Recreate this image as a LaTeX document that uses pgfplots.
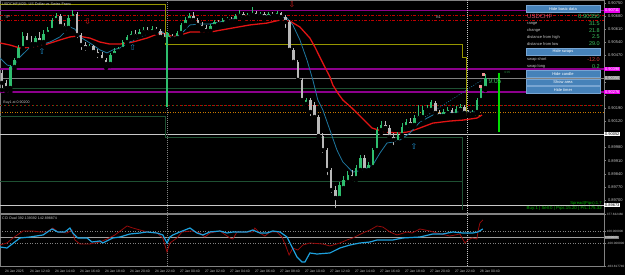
\documentclass[border=0pt]{standalone}
\usepackage{fontspec}
\setmainfont{Liberation Sans}
\newfontfamily\dejavu{DejaVu Sans}
\usepackage{pgfplots}
\usepackage{pgfplotstable}
\pgfplotsset{compat=1.18}
\definecolor{upc}{RGB}{46,190,110}
\definecolor{dnc}{RGB}{185,185,185}
\definecolor{maR}{RGB}{225,20,20}
\definecolor{maB}{RGB}{30,120,160}
\definecolor{mag}{RGB}{140,0,140}
\definecolor{magL}{RGB}{235,0,235}
\definecolor{lvred}{RGB}{190,0,0}
\definecolor{olv}{RGB}{150,150,0}
\definecolor{dgreen}{RGB}{30,80,50}
\definecolor{lgray}{RGB}{200,200,200}
\definecolor{mgray}{RGB}{130,130,130}
\definecolor{btn}{RGB}{70,130,185}
\definecolor{btnb}{RGB}{120,165,210}
\definecolor{txtg}{RGB}{60,195,95}
\definecolor{cciB}{RGB}{30,160,220}
\definecolor{cciR}{RGB}{150,10,10}
\definecolor{orng}{RGB}{200,120,0}
\definecolor{arrB}{RGB}{30,140,200}
\definecolor{arrR}{RGB}{210,30,30}
\definecolor{brgreen}{RGB}{0,220,0}
\newcommand{\fs}[1]{\fontsize{#1}{#1}\selectfont}

\pgfplotstableread{
x o h l c
2 0.90297 0.90420 0.90276 0.90409
3 0.90409 0.90457 0.90398 0.90446
4 0.90446 0.90526 0.90436 0.90510
5 0.90510 0.90595 0.90500 0.90574
8 0.90531 0.90574 0.90521 0.90563
10 0.90542 0.90606 0.90531 0.90585
11 0.90585 0.90622 0.90574 0.90606
12 0.90606 0.90670 0.90595 0.90659
13 0.90659 0.90697 0.90638 0.90681
16 0.90617 0.90686 0.90606 0.90670
17 0.90670 0.90713 0.90659 0.90691
21 0.90510 0.90531 0.90489 0.90521
26 0.90425 0.90484 0.90414 0.90473
27 0.90473 0.90510 0.90462 0.90494
28 0.90494 0.90515 0.90484 0.90505
29 0.90505 0.90553 0.90494 0.90542
30 0.90542 0.90579 0.90531 0.90569
31 0.90569 0.90601 0.90558 0.90585
33 0.90574 0.90611 0.90569 0.90595
34 0.90595 0.90622 0.90585 0.90606
36 0.90595 0.90627 0.90590 0.90611
40 0.90558 0.90590 0.90547 0.90574
42 0.90563 0.90601 0.90558 0.90590
43 0.90590 0.90643 0.90579 0.90633
44 0.90633 0.90675 0.90622 0.90659
45 0.90659 0.90697 0.90649 0.90681
50 0.90601 0.90638 0.90595 0.90627
51 0.90627 0.90659 0.90617 0.90649
53 0.90638 0.90670 0.90627 0.90659
54 0.90659 0.90675 0.90638 0.90665
56 0.90654 0.90691 0.90649 0.90681
57 0.90681 0.90713 0.90670 0.90691
59 0.90675 0.90697 0.90670 0.90686
60 0.90686 0.90729 0.90675 0.90697
62 0.90681 0.90702 0.90675 0.90691
64 0.90675 0.90702 0.90670 0.90691
66 0.90681 0.90707 0.90670 0.90697
73 0.90212 0.90244 0.90196 0.90233
81 0.89711 0.89796 0.89695 0.89780
82 0.89764 0.89828 0.89743 0.89807
83 0.89796 0.89855 0.89775 0.89833
85 0.89817 0.89887 0.89807 0.89871
86 0.89860 0.89940 0.89844 0.89924
88 0.89860 0.89903 0.89849 0.89887
89 0.89876 0.89977 0.89865 0.89966
90 0.89966 0.90089 0.89956 0.90073
91 0.90073 0.90121 0.90057 0.90100
95 0.90009 0.90062 0.89988 0.90046
96 0.90046 0.90110 0.90036 0.90089
97 0.90089 0.90132 0.90078 0.90116
99 0.90100 0.90153 0.90089 0.90137
100 0.90137 0.90206 0.90126 0.90148
101 0.90142 0.90201 0.90132 0.90180
102 0.90180 0.90206 0.90164 0.90190
103 0.90180 0.90233 0.90174 0.90222
106 0.90148 0.90185 0.90137 0.90169
107 0.90164 0.90196 0.90153 0.90180
109 0.90153 0.90201 0.90148 0.90185
110 0.90180 0.90212 0.90164 0.90196
113 0.90158 0.90180 0.90153 0.90169
114 0.90169 0.90244 0.90158 0.90233
115 0.90233 0.90308 0.90222 0.90297
116 0.90297 0.90372 0.90286 0.90350
}\upT

\pgfplotstableread{
x o h l c
0 0.90377 0.90393 0.90286 0.90324
1 0.90324 0.90340 0.90281 0.90297
6 0.90574 0.90590 0.90526 0.90542
7 0.90542 0.90574 0.90515 0.90531
9 0.90563 0.90595 0.90526 0.90542
14 0.90681 0.90691 0.90617 0.90627
15 0.90627 0.90643 0.90601 0.90617
18 0.90691 0.90702 0.90553 0.90579
19 0.90579 0.90590 0.90489 0.90526
20 0.90526 0.90542 0.90484 0.90510
22 0.90521 0.90526 0.90468 0.90489
23 0.90489 0.90505 0.90446 0.90473
24 0.90473 0.90489 0.90436 0.90446
25 0.90446 0.90457 0.90404 0.90425
32 0.90585 0.90606 0.90563 0.90574
35 0.90606 0.90622 0.90585 0.90595
37 0.90611 0.90622 0.90590 0.90601
38 0.90601 0.90611 0.90553 0.90569
39 0.90569 0.90590 0.90547 0.90558
41 0.90574 0.90585 0.90553 0.90563
46 0.90681 0.90702 0.90649 0.90659
47 0.90659 0.90670 0.90622 0.90633
48 0.90633 0.90649 0.90601 0.90617
49 0.90617 0.90633 0.90585 0.90601
52 0.90649 0.90659 0.90627 0.90638
55 0.90665 0.90675 0.90643 0.90654
58 0.90691 0.90702 0.90665 0.90675
61 0.90697 0.90707 0.90670 0.90681
63 0.90691 0.90702 0.90665 0.90675
65 0.90691 0.90702 0.90670 0.90681
67 0.90697 0.90702 0.90665 0.90675
68 0.90675 0.90686 0.90606 0.90649
69 0.90649 0.90659 0.90484 0.90500
70 0.90500 0.90510 0.90420 0.90436
71 0.90436 0.90446 0.90324 0.90340
72 0.90340 0.90350 0.90217 0.90233
74 0.90233 0.90244 0.90137 0.90169
75 0.90206 0.90222 0.90132 0.90142
76 0.90142 0.90153 0.90030 0.90041
77 0.90041 0.90057 0.89940 0.89966
78 0.89966 0.89977 0.89823 0.89860
79 0.89860 0.89871 0.89727 0.89753
80 0.89753 0.89775 0.89647 0.89711
84 0.89833 0.89860 0.89796 0.89817
87 0.89924 0.89940 0.89839 0.89860
92 0.90100 0.90121 0.90068 0.90084
93 0.90084 0.90100 0.90020 0.90036
94 0.90036 0.90057 0.89982 0.90020
98 0.90116 0.90137 0.90084 0.90100
104 0.90217 0.90228 0.90148 0.90164
105 0.90164 0.90180 0.90132 0.90148
108 0.90180 0.90190 0.90142 0.90153
111 0.90196 0.90206 0.90153 0.90164
112 0.90169 0.90180 0.90148 0.90158
}\dnT

\begin{document}
\begin{tikzpicture}[x=1pt,y=1pt]
\useasboundingbox (0,0) rectangle (625,275);
\fill[black] (0,0) rectangle (625,275);

% ---------------- main price window ----------------
\begin{axis}[
  at={(0pt,62pt)}, anchor=south west,
  width=604pt, height=213pt, scale only axis,
  xmin=-0.48, xmax=144.48, ymin=0.89631, ymax=0.90766,
  axis background/.style={fill=black},
  axis line style={draw=mgray, line width=0.8pt},
  clip mode=individual,
  xtick=\empty,
  ytick={0.89700,0.89770,0.89840,0.89910,0.89980,0.90050,0.90120,0.90190,0.90260,0.90330,0.90400,0.90470,0.90540,0.90610,0.90680,0.90750},
  yticklabels={0.89700,0.89770,0.89840,0.89910,0.89980,,0.90120,0.90190,,,,0.90470,0.90540,0.90610,0.90680,0.90750},
  ytick pos=right, yticklabel pos=right,
  tick align=outside, major tick length=2pt,
  tick style={draw=mgray, line width=0.5pt},
  yticklabel style={font=\fs{4}, text=lgray, xshift=-1.5pt},
]
% levels
\addplot[mag, line width=1.2pt] coordinates {(-0.48,0.90711) (144.48,0.90711)};
\addplot[lvred, line width=0.8pt, dash pattern=on 3pt off 1.5pt on 1pt off 1.5pt] coordinates {(-0.48,0.90686) (144.48,0.90686)};
\addplot[lvred, line width=0.8pt, dash pattern=on 3pt off 1.5pt on 1pt off 1.5pt] coordinates {(-0.48,0.90659) (144.48,0.90659)};
\addplot[mag, line width=1.2pt] coordinates {(-0.48,0.90398) (144.48,0.90398)};
\addplot[mgray, line width=0.8pt] coordinates {(-0.48,0.90350) (144.48,0.90350)};
\addplot[dgreen, line width=0.8pt] coordinates {(-0.48,0.90297) (111.3,0.90297)};
\addplot[mag, line width=1.2pt] coordinates {(-0.48,0.90276) (144.48,0.90276)};
\addplot[lvred, line width=0.7pt, dash pattern=on 2pt off 2pt] coordinates {(-0.48,0.90203) (144.48,0.90203)};
\addplot[dgreen!80!green, line width=0.7pt, dash pattern=on 1pt off 3pt, dash phase=2.5pt] coordinates {(-0.48,0.90203) (144.48,0.90203)};
\addplot[orng, line width=0.6pt, dash pattern=on 1pt off 1.5pt] coordinates {(-0.48,0.90169) (144.48,0.90169)};
\addplot[lgray, line width=0.8pt] coordinates {(-0.48,0.90052) (144.48,0.90052)};
\addplot[dgreen, line width=0.8pt] coordinates {(-0.48,0.89801) (110.6,0.89801)};
\addplot[lgray, line width=0.8pt] coordinates {(-0.48,0.89673) (144.48,0.89673)};
% step lines (day high / low)
\addplot[olv, line width=0.8pt] coordinates {(-0.48,0.90745) (39.1,0.90745) (39.1,0.90531) (110.6,0.90531) (110.6,0.90462) (111.4,0.90462) (111.4,0.90153) (114.6,0.90153)};
\addplot[dgreen, line width=0.8pt] coordinates {(-0.48,0.90148) (39.1,0.90148) (39.1,0.90036) (110.6,0.90036) (110.6,0.89647)};
% separators
\addplot[mgray, line width=0.6pt, dash pattern=on 1pt off 1pt] coordinates {(39.6,0.89631) (39.6,0.90766)};
\addplot[lgray, line width=0.6pt, dash pattern=on 1pt off 1pt] coordinates {(111.6,0.89631) (111.6,0.90766)};
% dotted trend
\addplot[maB, line width=0.6pt, dash pattern=on 1pt off 1.5pt] coordinates {(95.5,0.90057) (115.2,0.90340)};
% moving averages
\addplot[maR, line width=1.3pt] coordinates {
(-0.48,0.90537) (1.92,0.90526) (4.32,0.90510) (7.44,0.90515) (10.8,0.90531) (13.9,0.90553) (16.3,0.90569) (18.2,0.90574) (21.1,0.90563) (23.5,0.90542) (25.9,0.90531) (28.3,0.90531) (31.4,0.90542) (34.8,0.90563) (37.9,0.90590) (39.6,0.90585) (41.0,0.90569) (42.7,0.90579) (45.1,0.90595) (47.5,0.90595) (49.9,0.90595) (55.4,0.90617) (59.5,0.90633) (63.6,0.90643) (66.7,0.90659) (69.1,0.90654) (71.5,0.90622) (73.9,0.90563) (75.1,0.90515) (77.0,0.90430) (78.7,0.90356) (79.4,0.90313) (80.6,0.90270) (81.8,0.90233) (84.0,0.90190) (86.4,0.90137) (88.8,0.90084) (91.9,0.90062) (95.5,0.90057) (97.9,0.90065) (100.3,0.90084) (103.4,0.90110) (107.5,0.90121) (110.6,0.90126) (114.0,0.90137) (115.2,0.90153)};
\addplot[maB, line width=0.8pt] coordinates {
(-0.48,0.90457) (1.2,0.90420) (2.64,0.90409) (4.32,0.90462) (6.72,0.90515) (9.12,0.90526) (11.5,0.90542) (13.9,0.90569) (16.3,0.90622) (17.5,0.90611) (18.7,0.90569) (21.1,0.90537) (23.5,0.90500) (25.2,0.90484) (26.6,0.90500) (28.3,0.90510) (30.7,0.90542) (33.1,0.90569) (35.5,0.90590) (38.6,0.90595) (39.6,0.90569) (41.0,0.90563) (42.7,0.90579) (45.1,0.90633) (47.5,0.90638) (49.9,0.90638) (52.3,0.90649) (55.4,0.90665) (59.5,0.90681) (62.6,0.90686) (66.0,0.90681) (68.4,0.90670) (69.8,0.90633) (71.5,0.90553) (73.2,0.90446) (74.6,0.90340) (75.8,0.90233) (77.0,0.90180) (78.7,0.90073) (80.4,0.89966) (81.8,0.89903) (84.2,0.89849) (86.6,0.89860) (89.0,0.89887) (90.7,0.89950) (92.4,0.90004) (93.8,0.90009) (95.5,0.90020) (97.9,0.90057) (100.3,0.90116) (103.4,0.90153) (105.8,0.90164) (109.2,0.90169) (111.6,0.90169) (114.0,0.90169)};
% candles: wicks and bodies
\addplot[only marks, mark=none, error bars/.cd, y dir=plus, y explicit, error mark=none, error bar style={line width=0.7pt, draw=dnc}] table[x=x, y=l, y error plus expr=\thisrow{h}-\thisrow{l}] {\dnT};
\addplot[only marks, mark=none, error bars/.cd, y dir=plus, y explicit, error mark=none, error bar style={line width=2.6pt, draw=dnc}] table[x=x, y=c, y error plus expr=\thisrow{o}-\thisrow{c}] {\dnT};
\addplot[only marks, mark=none, error bars/.cd, y dir=plus, y explicit, error mark=none, error bar style={line width=0.7pt, draw=upc}] table[x=x, y=l, y error plus expr=\thisrow{h}-\thisrow{l}] {\upT};
\addplot[only marks, mark=none, error bars/.cd, y dir=plus, y explicit, error mark=none, error bar style={line width=2.6pt, draw=upc}] table[x=x, y=o, y error plus expr=\thisrow{c}-\thisrow{o}] {\upT};
% big timer candles
\addplot[upc, line width=2pt] coordinates {(39.6,0.90595) (39.6,0.90196)};
\addplot[brgreen, line width=2pt] coordinates {(119.3,0.90377) (119.3,0.90062)};
% order markers
\addplot[only marks, mark=square*, mark size=1pt, mark options={fill={rgb,255:red,240;green,150;blue,150}, draw={rgb,255:red,240;green,150;blue,150}}] coordinates {(114.7,0.90308) (115.4,0.90372)};
% arrows
\addplot[only marks, mark=text, text mark={\textcolor{arrB}{\dejavu\fs{8}⇧}}] coordinates {(9.6,0.90494) (31.4,0.90515) (98.9,0.89988)};
\addplot[only marks, mark=text, text mark={\textcolor{arrR}{\dejavu\fs{8}⇩}}] coordinates {(20.6,0.90649) (69.6,0.90739)};
% highlighted price labels
\node[anchor=west, fill=magL, text=white, font=\fs{4}, inner sep=0.8pt] at (axis cs:144.48,0.90711) {0.90711};
\node[anchor=west, fill=magL, text=white, font=\fs{4}, inner sep=0.8pt] at (axis cs:144.48,0.90398) {0.90398};
\node[anchor=west, fill=mgray, text=white, font=\fs{4}, inner sep=0.8pt] at (axis cs:144.48,0.90350) {0.90350};
\node[anchor=west, fill=magL, text=white, font=\fs{4}, inner sep=0.8pt] at (axis cs:144.48,0.90276) {0.90276};
\node[anchor=west, fill=white, text=black, font=\fs{4}, inner sep=0.8pt] at (axis cs:144.48,0.90052) {0.90052};
\node[anchor=west, fill=white, text=black, font=\fs{4}, inner sep=0.8pt] at (axis cs:144.48,0.89673) {0.89673};
% text labels
\node[anchor=west, text=lgray, font=\fs{3.6}, inner sep=0pt] at (axis cs:0.3,0.90217) {Buy1 at 0.90200};
\node[anchor=west, text=lgray, font=\fs{3.6}, inner sep=0pt] at (axis cs:104.2,0.90675) {B1};
\node[anchor=west, text=lgray, font=\fs{3.6}, inner sep=0pt] at (axis cs:0.7,0.90675) {TP};
\node[text=txtg, font=\fs{6.5}, inner sep=0pt] at (axis cs:118.3,0.90334) {9:05};
\node[text=txtg!70!black, font=\fs{3}, inner sep=0pt] at (axis cs:121.3,0.90382) {9:05};
\end{axis}

% ---------------- CCI window ----------------
\begin{axis}[
  at={(0pt,9pt)}, anchor=south west,
  width=604pt, height=51.5pt, scale only axis,
  xmin=-0.48, xmax=144.48, ymin=-463.82, ymax=377.63,
  axis background/.style={fill=black},
  axis line style={draw=mgray, line width=0.8pt},
  clip mode=individual,
  xtick={0,6,...,114},
  xticklabels={24 Jan 2025,24 Jan 12:40,24 Jan 14:40,24 Jan 16:40,24 Jan 18:40,24 Jan 20:40,24 Jan 22:40,27 Jan 00:40,27 Jan 02:40,27 Jan 04:40,27 Jan 06:40,27 Jan 08:40,27 Jan 10:40,27 Jan 12:40,27 Jan 14:40,27 Jan 16:40,27 Jan 18:40,27 Jan 20:40,27 Jan 22:40,28 Jan 00:40},
  xtick pos=bottom, 
  xticklabel style={font=\fs{3.4}, text=lgray, anchor=north west, xshift=-0.5pt, yshift=0.5pt},
  ytick={-463.82,-100,100,377.63},
  yticklabels={-463.817740,-100.000000,100.000000,377.632460},
  ytick pos=right, yticklabel pos=right,
  tick align=outside, major tick length=1.5pt,
  tick style={draw=mgray, line width=0.5pt},
  yticklabel style={font=\fs{3.1}, text=lgray, xshift=-2.2pt},
]
\addplot[mgray, line width=0.5pt, dash pattern=on 1pt off 1.5pt] coordinates {(-0.48,100) (144.48,100)};
\addplot[mgray, line width=0.5pt, dash pattern=on 1pt off 1.5pt] coordinates {(-0.48,-100) (144.48,-100)};
\addplot[lgray!80!black, line width=0.7pt] coordinates {(-0.48,0) (144.48,0)};
\addplot[mgray, line width=0.6pt, dash pattern=on 1pt off 1pt] coordinates {(39.6,-463.82) (39.6,377.63)};
\addplot[lgray, line width=0.6pt, dash pattern=on 1pt off 1pt] coordinates {(111.6,-463.82) (111.6,377.63)};
\addplot[cciR, line width=0.8pt] coordinates {
(-0.48,-121) (1.2,-88) (2.64,-6) (5.04,108) (7.44,108) (9.12,92) (10.8,92) (12.2,157) (13.4,92) (15.6,75) (16.8,124) (17.5,-39) (18.7,-104) (21.1,-104) (23.5,-72) (25.2,-23) (27.1,43) (30.0,190) (31.4,157) (34.8,92) (37.2,75) (38.6,-6) (39.6,-235) (40.3,-88) (42.0,-6) (43.2,92) (45.6,108) (47.5,75) (48.7,10) (49.9,75) (52.3,108) (54.7,-6) (55.4,-23) (56.4,92) (60.2,92) (60.7,157) (61.9,75) (63.1,26) (64.3,92) (66.0,92) (67.2,10) (68.2,-153) (68.9,-284) (69.8,-170) (71.0,-203) (72.2,-121) (73.9,-88) (77.0,-104) (78.7,-137) (81.1,-88) (82.8,-39) (84.2,-6) (86.6,75) (88.3,124) (90.0,190) (91.4,173) (93.1,92) (94.8,43) (97.2,92) (98.4,75) (100.3,141) (102.7,108) (104.4,75) (107.5,26) (109.9,59) (111.1,-88) (111.8,-39) (112.8,-6) (114.0,-23) (114.2,92) (114.7,239) (115.4,288)};
\addplot[cciB, line width=1.2pt] coordinates {
(-0.48,-153) (1.2,-170) (4.32,-6) (6.72,10) (9.84,43) (12.0,141) (13.4,92) (15.1,92) (16.3,157) (17.0,75) (18.2,-6) (20.4,-6) (21.6,-72) (23.5,-55) (24.2,-88) (26.6,-6) (28.3,10) (30.7,59) (33.1,75) (34.8,92) (37.2,75) (38.6,43) (39.6,-88) (40.3,10) (41.0,43) (42.7,92) (45.1,157) (46.8,75) (48.2,43) (49.9,92) (52.3,108) (54.0,75) (55.4,92) (58.8,92) (60.2,124) (61.9,75) (63.6,75) (65.0,108) (66.7,92) (68.4,10) (69.6,-153) (70.8,-317) (72.0,-399) (72.7,-399) (73.9,-251) (75.6,-268) (78.7,-251) (81.1,-170) (83.5,-121) (85.9,-88) (88.3,-72) (90.0,-39) (93.8,-39) (96.2,-6) (100.3,10) (103.4,59) (105.8,59) (108.2,92) (110.6,75) (113.0,75) (114.2,92) (115.4,141)};
\node[anchor=west, fill=mgray, text=white, font=\fs{3.1}, inner sep=0.7pt] at (axis cs:144.48,0) {0.000000};
\end{axis}

% ---------------- texts and panel ----------------
\node[anchor=west, text=lgray, font=\fs{3.8}, inner sep=0pt] at (2,271) {USDCHF,M20:  US Dollar vs Swiss Franc};
\node[anchor=west, text=lgray, font=\fs{3.6}, inner sep=0pt] at (2,57) {CCI Dual 392.139392 142.898874};
\node[anchor=east, text=green!70!black, font=\fs{4.2}, inner sep=0pt] at (602,72) {Spread(Pips):1.7};
\node[anchor=east, text=green!70!black, font=\fs{4.4}, inner sep=0pt] at (602,66.3) {Buy:1 | Sell:0 | Pips:15.20 | P/L:175.32};

\tikzset{btn/.style={fill=btn, draw=btnb, line width=0.4pt}}
\draw[btn] (526,270) rectangle (600,262.7);
\node[text=white, font=\fs{4}] at (563,266.3) {Hide basic data};
\node[anchor=west, text={rgb,255:red,215;green,80;blue,110}, font=\fs{6}, inner sep=0pt] at (527,259) {USDCHF};
\node[anchor=east, text=txtg, font=\fs{6}, inner sep=0pt] at (600,259) {0.90350};
\node[anchor=west, text=lgray, font=\fs{4}, inner sep=0pt] at (527,251.5) {range};
\node[anchor=east, text=txtg, font=\fs{5.5}, inner sep=0pt] at (600,251.5) {31.5};
\node[anchor=west, text=lgray, font=\fs{4}, inner sep=0pt] at (527,244.8) {change};
\node[anchor=east, text=txtg, font=\fs{5.5}, inner sep=0pt] at (600,244.8) {21.8};
\node[anchor=west, text=lgray, font=\fs{4}, inner sep=0pt] at (527,238) {distance from high};
\node[anchor=east, text=txtg, font=\fs{5.5}, inner sep=0pt] at (600,238) {2.5};
\node[anchor=west, text=lgray, font=\fs{4}, inner sep=0pt] at (527,231.2) {distance from low};
\node[anchor=east, text=txtg, font=\fs{5.5}, inner sep=0pt] at (600,231.2) {29.0};
\draw[btn] (526,226.5) rectangle (600,220);
\node[text=white, font=\fs{4}] at (563,223.2) {Hide swaps};
\node[anchor=west, text=lgray, font=\fs{4}, inner sep=0pt] at (527,215.5) {swap short};
\node[anchor=east, text={rgb,255:red,220;green,60;blue,60}, font=\fs{5.5}, inner sep=0pt] at (600,215.5) {-12.0};
\node[anchor=west, text=lgray, font=\fs{4}, inner sep=0pt] at (527,208.6) {swap long};
\node[anchor=east, text=txtg, font=\fs{5.5}, inner sep=0pt] at (600,208.6) {0.2};
\draw[btn] (526,204.3) rectangle (600,197.7);
\node[text=white, font=\fs{4}] at (563,201) {Hide candle};
\draw[btn] (526,196) rectangle (600,189.7);
\node[text=white, font=\fs{4}] at (563,192.8) {Show area};
\draw[btn] (526,188.3) rectangle (600,181.7);
\node[text=white, font=\fs{4}] at (563,185) {Hide timer};
\end{tikzpicture}
\end{document}
